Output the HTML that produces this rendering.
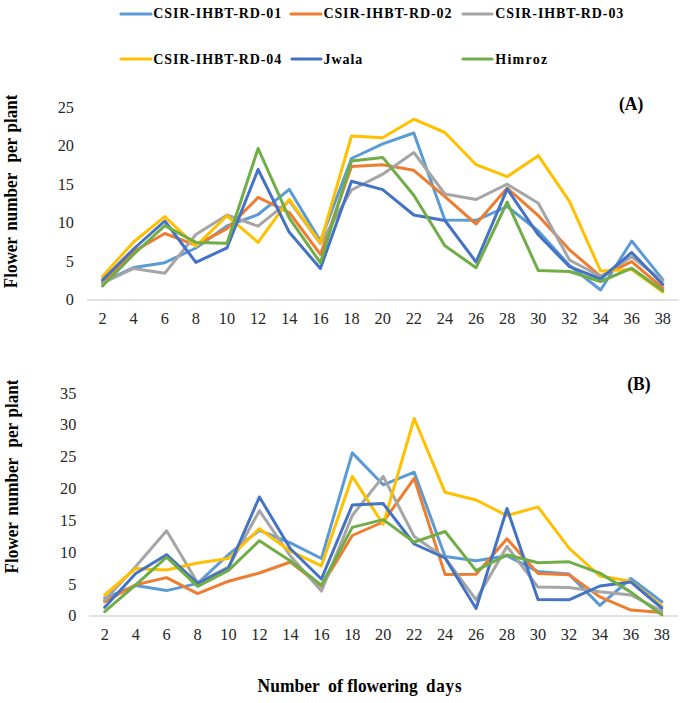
<!DOCTYPE html>
<html><head><meta charset="utf-8">
<style>
html,body{margin:0;padding:0;background:#fff;}
body{width:685px;height:703px;overflow:hidden;}
svg{display:block;}
.t{font-family:"Liberation Serif",serif;font-size:16.3px;fill:#262626;}
.b{font-family:"Liberation Serif",serif;font-weight:bold;fill:#000;}
.lines polyline{fill:none;stroke-width:3.0;stroke-linejoin:round;stroke-linecap:round;}
</style></head><body>
<svg width="685" height="703" viewBox="0 0 685 703">
<rect width="685" height="703" fill="#fff"/>
<!-- legend -->
<g stroke-width="3.2" stroke-linecap="round">
<line x1="121" y1="14" x2="151" y2="14" stroke="#5B9BD5"/>
<line x1="291" y1="14" x2="321" y2="14" stroke="#ED7D31"/>
<line x1="463" y1="14" x2="492" y2="14" stroke="#A5A5A5"/>
<line x1="121" y1="59" x2="151" y2="59" stroke="#FFC000"/>
<line x1="292" y1="59" x2="321" y2="59" stroke="#4472C4"/>
<line x1="463" y1="59" x2="492" y2="59" stroke="#70AD47"/>
</g>
<g class="b" font-size="14" letter-spacing="0.9">
<text x="153.2" y="18">CSIR-IHBT-RD-01</text>
<text x="323.4" y="18">CSIR-IHBT-RD-02</text>
<text x="495.3" y="18">CSIR-IHBT-RD-03</text>
<text x="153.2" y="63.7">CSIR-IHBT-RD-04</text>
<text x="323.6" y="63.7">Jwala</text>
<text x="495.2" y="63.7" letter-spacing="1.3">Himroz</text>
</g>
<!-- chart A -->
<line x1="87" y1="300" x2="679" y2="300" stroke="#D9D9D9" stroke-width="1.3"/>
<g class="t">
<text x="74" y="305.3" text-anchor="end">0</text>
<text x="74" y="266.8" text-anchor="end">5</text>
<text x="74" y="228.2" text-anchor="end">10</text>
<text x="74" y="189.7" text-anchor="end">15</text>
<text x="74" y="151.1" text-anchor="end">20</text>
<text x="74" y="112.6" text-anchor="end">25</text>
<text x="102.5" y="324" text-anchor="middle">2</text>
<text x="133.6" y="324" text-anchor="middle">4</text>
<text x="164.8" y="324" text-anchor="middle">6</text>
<text x="195.9" y="324" text-anchor="middle">8</text>
<text x="227.0" y="324" text-anchor="middle">10</text>
<text x="258.1" y="324" text-anchor="middle">12</text>
<text x="289.3" y="324" text-anchor="middle">14</text>
<text x="320.4" y="324" text-anchor="middle">16</text>
<text x="351.5" y="324" text-anchor="middle">18</text>
<text x="382.7" y="324" text-anchor="middle">20</text>
<text x="413.8" y="324" text-anchor="middle">22</text>
<text x="444.9" y="324" text-anchor="middle">24</text>
<text x="476.1" y="324" text-anchor="middle">26</text>
<text x="507.2" y="324" text-anchor="middle">28</text>
<text x="538.3" y="324" text-anchor="middle">30</text>
<text x="569.5" y="324" text-anchor="middle">32</text>
<text x="600.6" y="324" text-anchor="middle">34</text>
<text x="631.7" y="324" text-anchor="middle">36</text>
<text x="662.8" y="324" text-anchor="middle">38</text>
</g>
<g class="lines">
<polyline points="102.5,282.0 133.6,267.5 164.8,262.7 195.9,248.0 227.0,226.0 258.1,214.5 289.3,189.4 320.4,241.0 351.5,158.5 382.7,143.9 413.8,133.0 444.9,220.0 476.1,220.3 507.2,206.5 538.3,231.0 569.5,265.5 600.6,290.0 631.7,241.0 662.8,279.6" stroke="#5B9BD5"/>
<polyline points="102.5,282.0 133.6,251.5 164.8,233.5 195.9,245.2 227.0,228.7 258.1,197.4 289.3,212.5 320.4,254.4 351.5,166.6 382.7,164.7 413.8,170.3 444.9,196.7 476.1,224.0 507.2,188.0 538.3,215.7 569.5,249.8 600.6,276.3 631.7,261.6 662.8,288.0" stroke="#ED7D31"/>
<polyline points="102.5,283.2 133.6,268.5 164.8,273.2 195.9,234.5 227.0,215.0 258.1,226.2 289.3,200.8 320.4,243.6 351.5,190.0 382.7,174.2 413.8,152.5 444.9,194.0 476.1,199.5 507.2,184.2 538.3,203.2 569.5,260.0 600.6,276.5 631.7,256.8 662.8,281.0" stroke="#A5A5A5"/>
<polyline points="102.5,276.6 133.6,242.0 164.8,216.6 195.9,246.1 227.0,215.8 258.1,242.3 289.3,199.4 320.4,243.0 351.5,136.0 382.7,137.7 413.8,119.2 444.9,132.5 476.1,164.7 507.2,176.7 538.3,155.7 569.5,201.4 600.6,271.0 631.7,269.5 662.8,292.0" stroke="#FFC000"/>
<polyline points="102.5,280.0 133.6,249.0 164.8,221.0 195.9,262.4 227.0,247.8 258.1,169.5 289.3,232.3 320.4,268.5 351.5,181.2 382.7,189.6 413.8,215.0 444.9,220.5 476.1,262.0 507.2,188.9 538.3,234.8 569.5,266.7 600.6,279.0 631.7,252.5 662.8,284.5" stroke="#4472C4"/>
<polyline points="102.5,286.0 133.6,254.5 164.8,225.6 195.9,242.4 227.0,243.2 258.1,148.5 289.3,218.2 320.4,262.8 351.5,161.1 382.7,157.4 413.8,195.2 444.9,245.8 476.1,267.7 507.2,202.0 538.3,270.6 569.5,271.5 600.6,281.5 631.7,268.2 662.8,290.7" stroke="#70AD47"/>
</g>
<text class="b" font-size="18" transform="translate(619,110) scale(0.97,1)">(A)</text>
<g class="b" font-size="18" transform="translate(16.5,288.3) rotate(-90)"><text transform="translate(0,0) scale(0.95,1)">Flower</text><text transform="translate(57.6,0) scale(0.95,1)">number</text><text transform="translate(125.8,0) scale(0.95,1)">per</text><text transform="translate(155.8,0) scale(0.95,1)">plant</text></g>
<!-- chart B -->
<line x1="89" y1="616" x2="678" y2="616" stroke="#D9D9D9" stroke-width="1.3"/>
<g class="t">
<text x="76.4" y="621.3" text-anchor="end">0</text>
<text x="76.4" y="589.5" text-anchor="end">5</text>
<text x="76.4" y="557.7" text-anchor="end">10</text>
<text x="76.4" y="525.9" text-anchor="end">15</text>
<text x="76.4" y="494.0" text-anchor="end">20</text>
<text x="76.4" y="462.2" text-anchor="end">25</text>
<text x="76.4" y="430.4" text-anchor="end">30</text>
<text x="76.4" y="398.6" text-anchor="end">35</text>
<text x="104.7" y="640" text-anchor="middle">2</text>
<text x="135.7" y="640" text-anchor="middle">4</text>
<text x="166.6" y="640" text-anchor="middle">6</text>
<text x="197.6" y="640" text-anchor="middle">8</text>
<text x="228.5" y="640" text-anchor="middle">10</text>
<text x="259.4" y="640" text-anchor="middle">12</text>
<text x="290.4" y="640" text-anchor="middle">14</text>
<text x="321.4" y="640" text-anchor="middle">16</text>
<text x="352.3" y="640" text-anchor="middle">18</text>
<text x="383.2" y="640" text-anchor="middle">20</text>
<text x="414.2" y="640" text-anchor="middle">22</text>
<text x="445.1" y="640" text-anchor="middle">24</text>
<text x="476.1" y="640" text-anchor="middle">26</text>
<text x="507.0" y="640" text-anchor="middle">28</text>
<text x="538.0" y="640" text-anchor="middle">30</text>
<text x="569.0" y="640" text-anchor="middle">32</text>
<text x="599.9" y="640" text-anchor="middle">34</text>
<text x="630.9" y="640" text-anchor="middle">36</text>
<text x="661.8" y="640" text-anchor="middle">38</text>
</g>
<g class="lines">
<polyline points="104.7,598.2 135.7,585.6 166.6,590.6 197.6,583.4 228.5,554.5 259.4,530.3 290.4,542.8 321.4,558.5 352.3,452.9 383.2,484.8 414.2,472.2 445.1,556.5 476.1,560.7 507.0,555.7 538.0,571.6 569.0,574.1 599.9,605.4 630.9,578.5 661.8,601.8" stroke="#5B9BD5"/>
<polyline points="104.7,601.8 135.7,584.8 166.6,577.6 197.6,593.6 228.5,581.2 259.4,573.0 290.4,562.0 321.4,586.3 352.3,535.5 383.2,522.0 414.2,478.3 445.1,574.6 476.1,574.3 507.0,538.8 538.0,573.6 569.0,574.7 599.9,596.9 630.9,610.1 661.8,612.6" stroke="#ED7D31"/>
<polyline points="104.7,600.2 135.7,566.5 166.6,530.8 197.6,582.8 228.5,567.0 259.4,510.7 290.4,556.0 321.4,591.1 352.3,515.5 383.2,476.4 414.2,536.5 445.1,558.0 476.1,599.8 507.0,546.4 538.0,587.1 569.0,587.4 599.9,591.7 630.9,595.0 661.8,611.1" stroke="#A5A5A5"/>
<polyline points="104.7,595.0 135.7,568.5 166.6,570.0 197.6,563.0 228.5,558.5 259.4,528.7 290.4,551.2 321.4,565.8 352.3,476.4 383.2,524.4 414.2,418.5 445.1,492.3 476.1,500.0 507.0,515.6 538.0,506.9 569.0,548.2 599.9,576.0 630.9,581.3 661.8,606.0" stroke="#FFC000"/>
<polyline points="104.7,607.3 135.7,573.5 166.6,554.7 197.6,583.3 228.5,568.0 259.4,497.0 290.4,548.8 321.4,579.0 352.3,505.0 383.2,503.6 414.2,544.0 445.1,558.0 476.1,608.5 507.0,508.5 538.0,599.5 569.0,599.8 599.9,586.0 630.9,582.0 661.8,608.0" stroke="#4472C4"/>
<polyline points="104.7,611.6 135.7,584.8 166.6,557.2 197.6,586.3 228.5,570.4 259.4,540.7 290.4,561.0 321.4,585.1 352.3,527.4 383.2,519.6 414.2,542.2 445.1,531.5 476.1,570.6 507.0,554.9 538.0,562.7 569.0,561.8 599.9,573.1 630.9,592.1 661.8,614.9" stroke="#70AD47"/>
</g>
<text class="b" font-size="18" transform="translate(627.3,389.8) scale(0.97,1)">(B)</text>
<g class="b" font-size="18" transform="translate(17.8,573.4) rotate(-90)"><text transform="translate(0,0) scale(0.95,1)">Flower</text><text transform="translate(57.6,0) scale(0.95,1)">number</text><text transform="translate(125.8,0) scale(0.95,1)">per</text><text transform="translate(155.8,0) scale(0.95,1)">plant</text></g>
<g class="b" font-size="18"><text transform="translate(257.6,692) scale(0.97,1)">Number</text><text transform="translate(328,692) scale(1,1)">of</text><text transform="translate(347.3,692) scale(0.965,1)">flowering</text><text transform="translate(426,692) scale(0.95,1)" letter-spacing="0.8">days</text></g>
</svg>
</body></html>
